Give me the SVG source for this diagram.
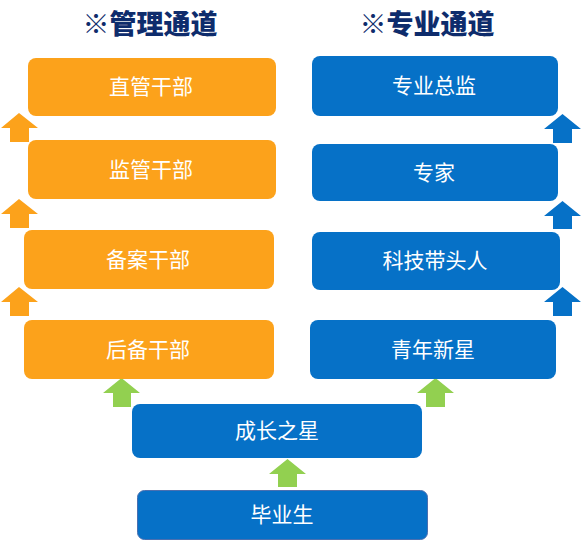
<svg xmlns="http://www.w3.org/2000/svg" width="584" height="542" viewBox="0 0 584 542">
<defs>
<style>
.title{font-family:"Noto Sans CJK SC","Liberation Sans",sans-serif;font-size:27px;font-weight:900;fill:#0E2C6C;text-anchor:middle;dominant-baseline:central}
.lbl{font-family:"Noto Sans CJK SC","Liberation Sans",sans-serif;font-size:21px;fill:#FFFFFF;text-anchor:middle;dominant-baseline:central}
.org{fill:#FCA21B}
.blu{fill:#0671C7}
.grn{fill:#92D050}
.barr{fill:#0671C7}
</style>
</defs>
<rect width="584" height="542" fill="#FFFFFF"/>
<text class="title" x="150" y="22">※管理通道</text>
<text class="title" x="427" y="22">※专业通道</text>
<g id="connectors">
<polygon class="org" points="19,113 38,128 29,128 29,142 10,142 10,128 1,128"/>
<polygon class="org" points="19,199 38,214 29,214 29,228 10,228 10,214 1,214"/>
<polygon class="org" points="19,287 38,302 29,302 29,316 10,316 10,302 1,302"/>
<polygon class="barr" points="562.5,114 581,129 572,129 572,143 553,143 553,129 544,129"/>
<polygon class="barr" points="562.5,201 581,216 572,216 572,229 553,229 553,216 544,216"/>
<polygon class="barr" points="562.5,287 581,302 572,302 572,316 553,316 553,302 544,302"/>
<polygon class="grn" points="121.5,378 140,393 131,393 131,407 113,407 113,393 103,393"/>
<polygon class="grn" points="435.5,378 454,393 445,393 445,407 426,407 426,393 417,393"/>
<polygon class="grn" points="287.5,459 306,474 297,474 297,487 278,487 278,474 269,474"/>
</g>
<g id="n-zhiguan"><rect class="org" x="28" y="58" width="248" height="58" rx="8"/><text class="lbl" x="151" y="85">直管干部</text></g>
<g id="n-jianguan"><rect class="org" x="28" y="140" width="248" height="59" rx="8"/><text class="lbl" x="151" y="167.5">监管干部</text></g>
<g id="n-beian"><rect class="org" x="24" y="230" width="250" height="59" rx="8"/><text class="lbl" x="148" y="257.5">备案干部</text></g>
<g id="n-houbei"><rect class="org" x="24" y="320" width="250" height="59" rx="8"/><text class="lbl" x="148" y="347.5">后备干部</text></g>
<g id="n-zongjian"><rect class="blu" x="312" y="56" width="246" height="60" rx="8"/><text class="lbl" x="434" y="84">专业总监</text></g>
<g id="n-zhuanjia"><rect class="blu" x="312" y="144" width="246" height="57" rx="8"/><text class="lbl" x="434" y="170.5">专家</text></g>
<g id="n-daitouren"><rect class="blu" x="312" y="232" width="248" height="58" rx="8"/><text class="lbl" x="435" y="259">科技带头人</text></g>
<g id="n-xinxing"><rect class="blu" x="310" y="320" width="246" height="59" rx="8"/><text class="lbl" x="433" y="347.5">青年新星</text></g>
<g id="n-chengzhang"><rect class="blu" x="132" y="404" width="290" height="54" rx="8"/><text class="lbl" x="277" y="429">成长之星</text></g>
<g id="n-biye"><rect class="blu" x="137.5" y="490.5" width="290" height="49" rx="7" stroke="#4A6FB0" stroke-width="1"/><text class="lbl" x="282" y="513">毕业生</text></g>
</svg>
